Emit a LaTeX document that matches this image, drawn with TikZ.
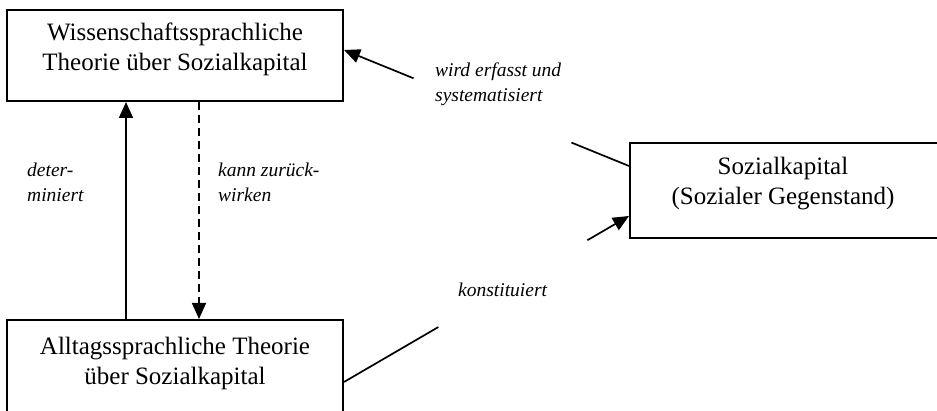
\documentclass[tikz,border=0pt]{standalone}
\usepackage{fontspec}
\setmainfont{Liberation Serif}
\usetikzlibrary{arrows.meta,calc}

\tikzset{
  box/.style={draw, line width=2pt, rectangle, inner sep=0pt},
  boxtext/.style={align=center, inner sep=0pt, font=\fontsize{25}{30}\selectfont},
  edgelabel/.style={align=left, anchor=west, inner sep=0pt, font=\fontsize{19.5}{24.5}\selectfont\itshape},
  link/.style={line width=1.7pt},
  arr/.style={link, -{Triangle[length=16pt,width=14pt]}},
  dasharr/.style={arr, dash pattern=on 8pt off 5pt}
}

\begin{document}
\begin{tikzpicture}[x=1pt, y=1pt]
  \useasboundingbox (0,0) rectangle (937,411);

  % the three boxes (the right box runs past the right margin,
  % the lower left box past the bottom margin)
  \node[box, minimum width=336pt, minimum height=91pt] (A) at (175,355.5) {};
  \node[box, minimum width=320pt, minimum height=95pt] (B) at (790,220.5) {};
  \node[box, minimum width=336pt, minimum height=100pt] (C) at (175,41) {};

  \node[boxtext] (Atext) at (175,361.5) {Wissenschaftssprachliche\\Theorie über Sozialkapital};
  \node[boxtext] (Btext) at (783,227.5) {Sozialkapital\\(Sozialer Gegenstand)};
  \node[boxtext] (Ctext) at (175,48) {Alltagssprachliche Theorie\\über Sozialkapital};

  % vertical relations between the two theories
  \draw[arr] ([xshift=-49pt]C.north) -- ([xshift=-49pt]A.south);
  \draw[dasharr] ([xshift=24pt]A.south) -- ([xshift=24pt]C.north);

  % Sozialkapital -> scientific theory, interrupted by its label
  \coordinate (bOut) at ([yshift=24.5pt]B.west);
  \coordinate (aIn) at ([yshift=5.5pt]A.east);
  \coordinate (g1) at ($(bOut)!0.202!(aIn)$);
  \coordinate (g2) at ($(bOut)!0.756!(aIn)$);
  \draw[link] (bOut) -- (g1);
  \draw[arr] (g2) -- (aIn);

  % everyday theory -> Sozialkapital, interrupted by its label
  \coordinate (cOut) at ([yshift=-12pt]C.east);
  \coordinate (bIn) at ([yshift=-25.5pt]B.west);
  \coordinate (h1) at ($(cOut)!0.331!(bIn)$);
  \coordinate (h2) at ($(cOut)!0.854!(bIn)$);
  \draw[link] (cOut) -- (h1);
  \draw[arr] (h2) -- (bIn);

  % labels
  \node[edgelabel] (ldet) at (27,228.5) {deter-\\miniert};
  \node[edgelabel] (lkann) at (218,228.5) {kann zurück-\\wirken};
  \node[edgelabel] (lwird) at (435,327) {wird erfasst und\\systematisiert};
  \node[edgelabel] (lkons) at (458,121) {konstituiert};
\end{tikzpicture}
\end{document}
